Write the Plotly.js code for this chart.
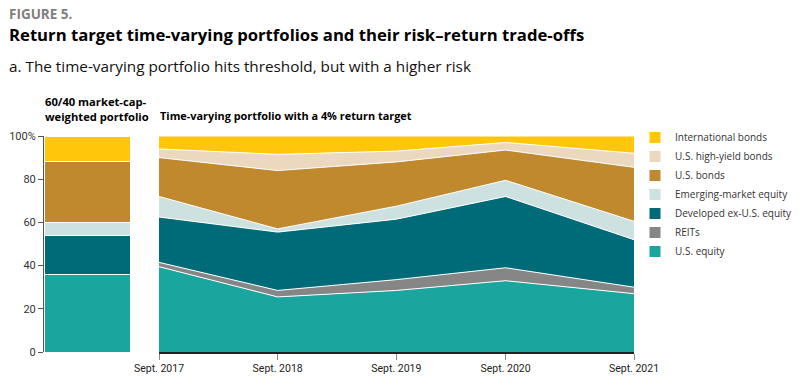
<!DOCTYPE html>
<html><head><meta charset="utf-8">
<script src="https://cdn.plot.ly/plotly-3.0.1.min.js"></script>
<style>html,body{margin:0;padding:0;background:#fff}#chart{width:800px;height:381px}</style>
</head><body><div id="chart"></div>
<script>
// ---- Data ----
const seriesNames = ['U.S. equity','REITs','Developed ex-U.S. equity','Emerging-market equity','U.S. bonds','U.S. high-yield bonds','International bonds'];
const seriesColors = ['#1BA59F','#868686','#006B78','#CDE1E1','#C1892E','#EBD8BF','#FFC60B'];
// 60/40 market-cap-weighted portfolio (%), same order as seriesNames
const benchmark6040 = [36, 0, 18, 6, 28, 0, 12];
// Time-varying portfolio with a 4% return target
const dates = ['2017-09-30','2018-09-30','2019-09-30','2020-08-31','2021-09-30'];
const dateLabels = ['Sept. 2017','Sept. 2018','Sept. 2019','Sept. 2020','Sept. 2021'];
const usEquity   = [39.5, 25.5, 28.5, 33, 27];
const reits      = [2, 3, 5, 6, 3];
const developed  = [21, 27, 28, 33, 22];
const emerging   = [9.5, 1.5, 6, 7.5, 8.5];
const usBonds    = [18, 27, 20.5, 14, 25];
const highYield  = [4, 7.5, 5, 3.5, 6.5];
const intlBonds  = [6, 8.5, 7, 3, 8];
const yTickVals  = [0, 20, 40, 60, 80, 100];
const yTickText  = ['0', '20', '40', '60', '80', '100%'];

const timeVarying = [usEquity, reits, developed, emerging, usBonds, highYield, intlBonds];

// ---- helpers (layout only) ----
const W = 800, H = 381;
const px = x => x / W;
const py = y => 1 - y / H;
const FONT = '"Open Sans", sans-serif';
const TICKFONT = 'Roboto, "Open Sans", sans-serif';

const traces = [];
seriesNames.forEach((name, i) => {
  traces.push({
    type: 'bar', x: ['60/40'], y: [benchmark6040[i]], name: name,
    xaxis: 'x', yaxis: 'y', width: 1,
    marker: {color: seriesColors[i], line: {color: '#ffffff', width: 1}},
    showlegend: true, legendgroup: name
  });
});
seriesNames.forEach((name, i) => {
  traces.push({
    type: 'scatter', mode: 'lines', x: dates, y: timeVarying[i], name: name,
    xaxis: 'x2', yaxis: 'y', stackgroup: 'tv',
    line: {color: '#ffffff', width: 1}, fillcolor: seriesColors[i],
    showlegend: false, legendgroup: name
  });
});

const ann = (text, x, y, size, opts) => Object.assign({
  text: text, x: px(x), y: py(y), xref: 'paper', yref: 'paper',
  xanchor: 'left', yanchor: 'middle', showarrow: false, align: 'left',
  font: {family: FONT, size: size, color: '#000'}
}, opts || {});

const layout = {
  width: W, height: H,
  margin: {l: 0, r: 0, t: 0, b: 0, autoexpand: false},
  paper_bgcolor: '#fff', plot_bgcolor: 'rgba(0,0,0,0)',
  font: {family: FONT, color: '#222'},
  barmode: 'stack', bargap: 0,
  showlegend: true,
  legend: {
    x: px(635), y: py(123), xanchor: 'left', yanchor: 'top',
    traceorder: 'reversed', font: {family: FONT, size: 10, color: '#333'},
    bgcolor: 'rgba(0,0,0,0)', borderwidth: 0, itemclick: false
  },
  xaxis: {
    domain: [px(44), px(130)], range: [-0.5, 0.5], anchor: 'y',
    showticklabels: false, showline: false, ticks: '', showgrid: false, zeroline: false,
    fixedrange: true
  },
  xaxis2: {
    type: 'date', domain: [px(159), px(634)], range: [dates[0], dates[dates.length - 1]],
    anchor: 'y', tickmode: 'array', tickvals: dates, ticktext: dateLabels,
    ticks: 'outside', ticklen: 6, tickcolor: '#888', tickwidth: 1,
    showline: true, linecolor: '#222', linewidth: 1.5, showgrid: false, zeroline: false,
    tickfont: {family: TICKFONT, size: 10.5, color: '#222'}
  },
  yaxis: {
    domain: [py(352), py(136)], range: [0, 100], anchor: 'x',
    tickmode: 'array', tickvals: yTickVals, ticktext: yTickText,
    ticks: 'outside', ticklen: 5, tickcolor: '#555', tickwidth: 1,
    showline: true, linecolor: '#555', linewidth: 1, showgrid: false, zeroline: false,
    tickfont: {family: TICKFONT, size: 11, color: '#333'}
  },
  annotations: [
    ann('<b>FIGURE 5.</b>', 7, 14, 13.5, {font: {family: FONT, size: 13.5, color: '#808080'}}),
    ann('<b>Return target time-varying portfolios and their risk–return trade-offs</b>', 7, 34, 16.7),
    ann('a. The time-varying portfolio hits threshold, but with a higher risk', 7, 66, 15.3, {font: {family: FONT, size: 15.3, color: '#111'}}),
    ann('<b>60/40 market-cap-</b><br><b>weighted portfolio</b>', 43, 109, 11.2),
    ann('<b>Time-varying portfolio with a 4% return target</b>', 158, 115, 10.9)
  ],
  hovermode: false
};

Plotly.newPlot('chart', traces, layout, {staticPlot: true, displayModeBar: false});
</script>
</body></html>
